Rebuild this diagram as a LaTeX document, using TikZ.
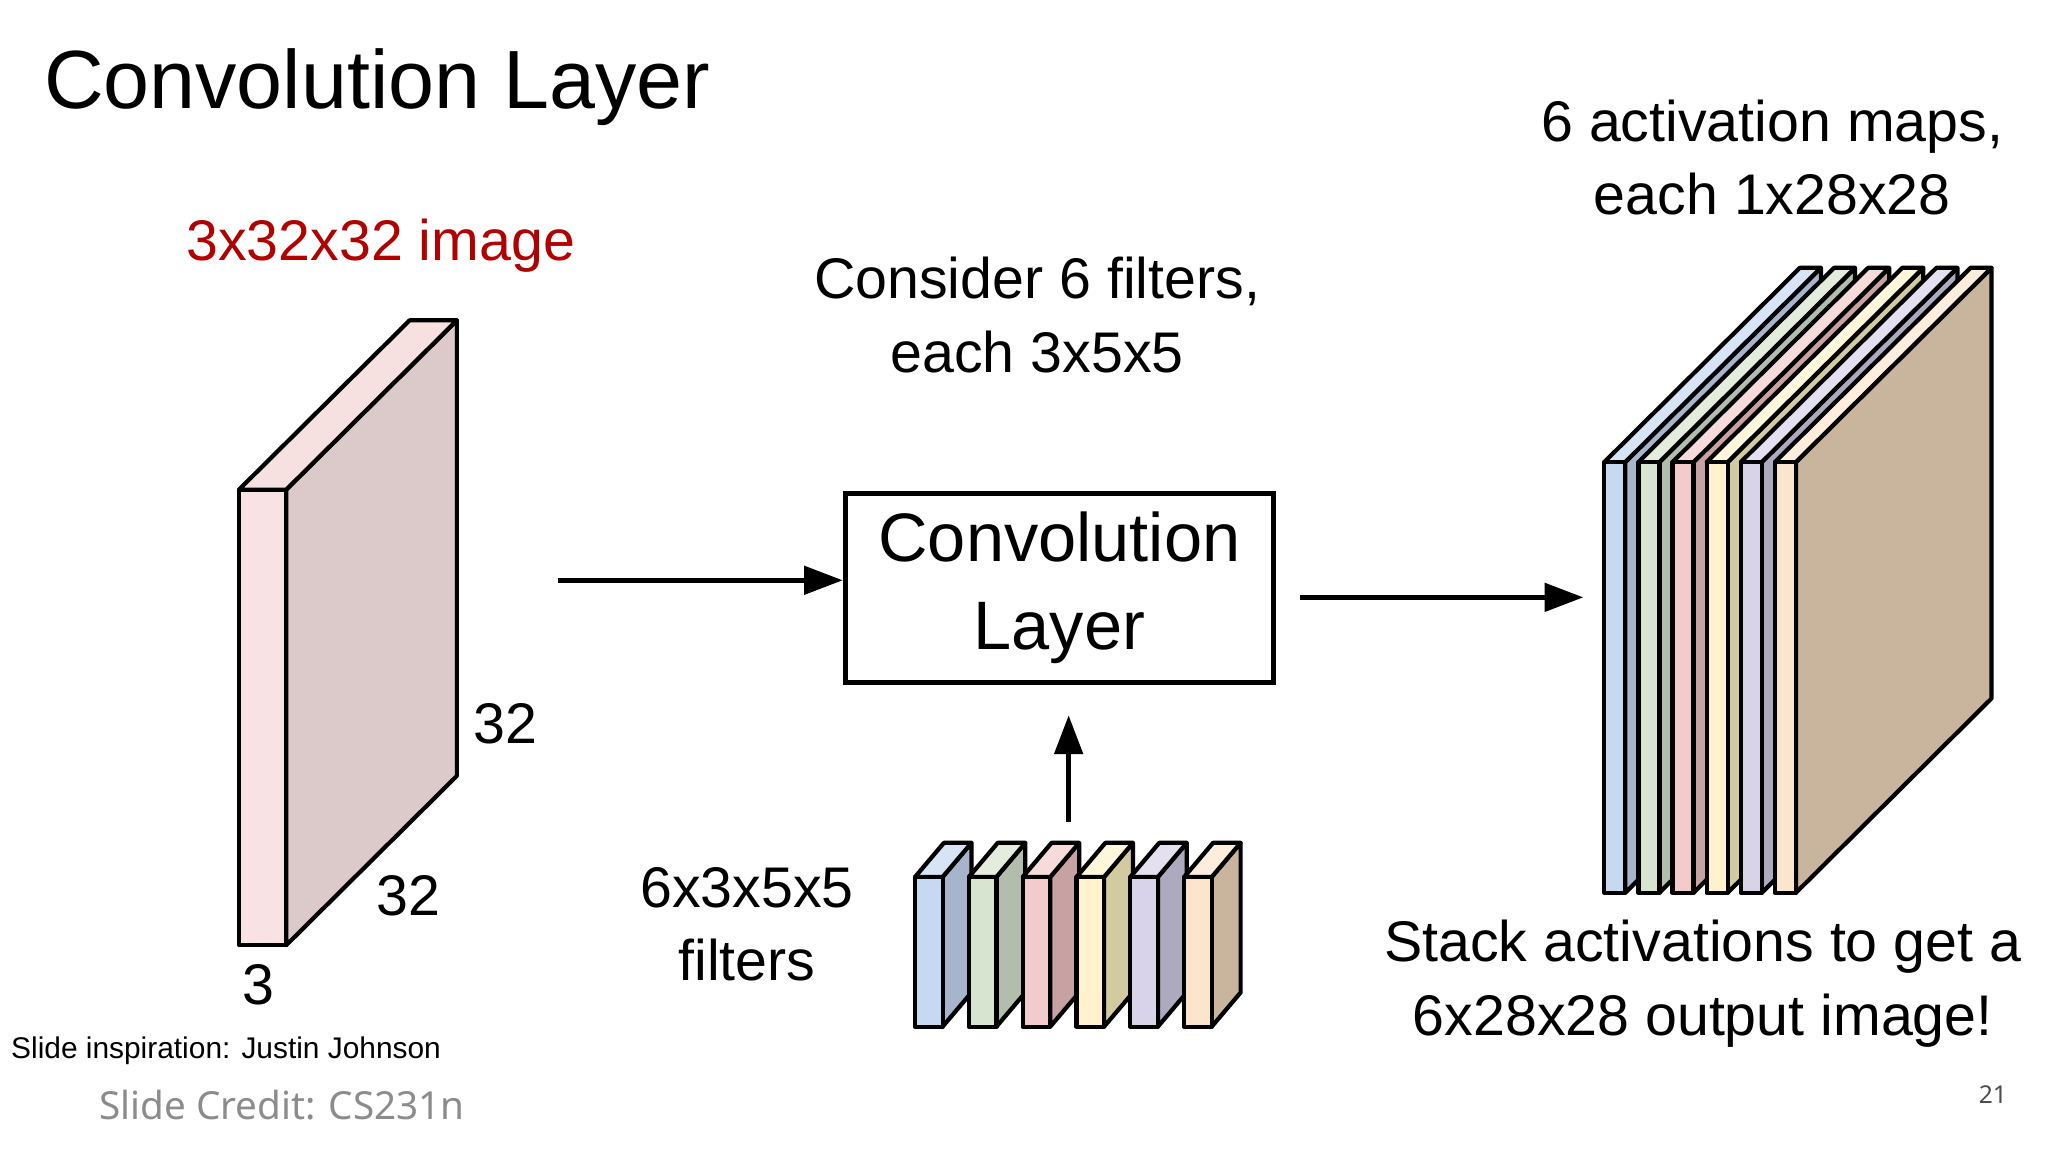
\documentclass[tikz,border=0pt]{standalone}
\usepackage{fontspec}
\setmainfont{Liberation Sans}
\newfontfamily\notos{Noto Sans}
\usetikzlibrary{arrows.meta}
\definecolor{redt}{HTML}{B00000}
\definecolor{pf}{HTML}{F9E2E2}
\definecolor{ps}{HTML}{DCC9C9}
\definecolor{pt}{HTML}{F7E0E0}
\begin{document}
\begin{tikzpicture}[x=0.013128cm,y=-0.013128cm,
  edge/.style={line width=1.2pt,line join=round},
  arr/.style={line width=1.3pt,-{Triangle[length=11pt,width=8pt]}},
  txt/.style={font=\fontsize{16.3}{19}\selectfont,align=center,inner sep=0pt}]
\useasboundingbox (0,0) rectangle (1560,877.5);
\newcommand\slab[9]{%
  \filldraw[edge,fill=#7] (#2,#3) -- (#2+#5,#3+#6) -- (#2+#5,#4+#6) -- (#2,#4) -- cycle;
  \filldraw[edge,fill=#9] (#1,#3) -- (#1+#5,#3+#6) -- (#2+#5,#3+#6) -- (#2,#3) -- cycle;
  \filldraw[edge,fill=#8] (#1,#3) rectangle (#2,#4);}
\slab{182}{218}{373}{720}{130}{-129}{ps}{pf}{pt}
\node[txt,anchor=west] (t0) at (33,66) {\fontsize{23.5}{28}\selectfont Convolution Layer};
\node[txt,text=redt] (t1) at (290,187) {3x32x32 image};
\node[txt] (d1) at (385,551) {32};
\node[txt] (d2) at (311,682) {32};
\node[txt] (d3) at (197,750) {3};
\node[txt] (t2) at (790,240) {Consider 6 filters,\\[2pt] each 3x5x5};
\node[txt] (t3) at (1350,120) {6 activation maps,\\[2pt] each 1x28x28};
\node[txt] (t4) at (569,704) {6x3x5x5\\[2pt] filters};
\node[txt] (t5) at (1297,749) {Stack activations to get a\\[2pt] 6x28x28 output image!};
\node[draw,line width=1.5pt,minimum width=4.28cm,minimum height=1.89cm,inner sep=0pt,align=center,font=\fontsize{19.5}{24}\selectfont] (box) at (807,448) {Convolution\\[1pt] Layer};
\coordinate (a1s) at (425,442);
\coordinate (a2s) at (990,455); \coordinate (a2e) at (1206,455);
\coordinate (a3s) at (814,626);
\draw[arr] (a1s) -- (a1s -| box.west);
\draw[arr] (a2s) -- (a2e);
\draw[arr] (a3s) -- ([yshift=-0.3cm]box.south -| a3s);
\definecolor{f0}{HTML}{C6D9F1}\definecolor{s0}{HTML}{A7B5CC}
\definecolor{f1}{HTML}{D7E4CF}\definecolor{s1}{HTML}{B2BDAE}
\definecolor{f2}{HTML}{F2CCCC}\definecolor{s2}{HTML}{C8A2A2}
\definecolor{f3}{HTML}{FFF2CC}\definecolor{s3}{HTML}{D2CAA0}
\definecolor{f4}{HTML}{D9D3EA}\definecolor{s4}{HTML}{ADA9BE}
\definecolor{f5}{HTML}{FCE5CD}\definecolor{s5}{HTML}{C9B49E}
\foreach \i in {0,...,5}{
  \pgfmathsetmacro\xa{697+41*\i}\pgfmathsetmacro\xb{\xa+21}
  \slab{\xa}{\xb}{668}{782}{22}{-26}{s\i}{f\i}{f\i!70!white}
}
\foreach \i in {0,...,5}{
  \pgfmathsetmacro\xa{1222+26*\i}\pgfmathsetmacro\xb{\xa+16}
  \slab{\xa}{\xb}{352}{680}{149}{-148}{s\i}{f\i}{f\i!70!white}
}
\node[inner sep=0pt,anchor=west,font=\fontsize{8.5}{10}\selectfont] (c1) at (8,800) {Slide inspiration: Justin Johnson};
\node[inner sep=0pt,anchor=west,text=black!45,font=\notos\fontsize{11}{13}\selectfont] (c2) at (75,842) {Slide Credit: CS231n};
\node[inner sep=0pt,text=black!70,font=\notos\fontsize{7}{9}\selectfont] (c3) at (1518,834) {21};
\end{tikzpicture}
\end{document}
